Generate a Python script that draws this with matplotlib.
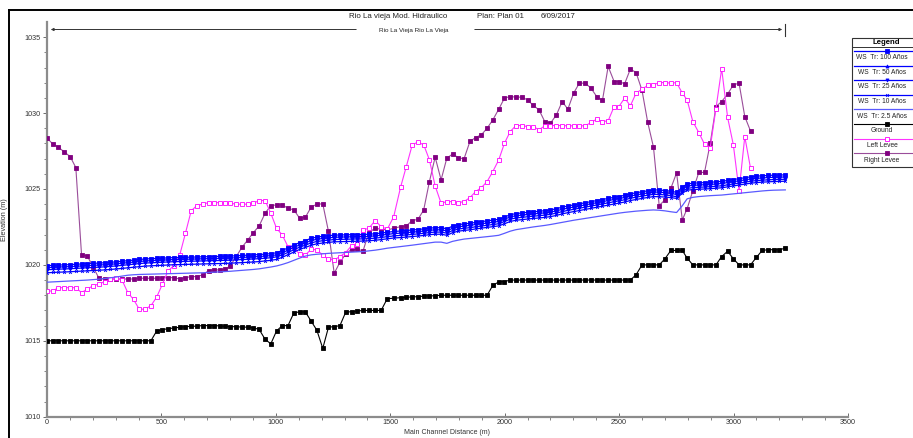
import numpy as np
import matplotlib.pyplot as plt
from matplotlib.lines import Line2D
from matplotlib.patches import Rectangle

plt.rcParams['font.family'] = ['Liberation Sans', 'DejaVu Sans']

# main channel stations (m)
station = [0, 25, 50, 76, 101, 126, 151, 176, 202, 227,
           252, 277, 302, 328, 353, 378, 403, 428, 454, 479,
           504, 529, 554, 580, 605, 630, 655, 680, 706, 731,
           756, 779, 801, 827, 852, 877, 902, 927, 953, 978,
           1003, 1028, 1053, 1079, 1104, 1129, 1154, 1179, 1205, 1230,
           1255, 1280, 1305, 1331, 1356, 1381, 1406, 1434, 1460, 1487,
           1515, 1545, 1570, 1596, 1621, 1646, 1671, 1696, 1722, 1747,
           1772, 1797, 1822, 1848, 1873, 1898, 1923, 1948, 1974, 1999,
           2024, 2049, 2074, 2100, 2125, 2150, 2175, 2200, 2226, 2251,
           2276, 2301, 2326, 2352, 2377, 2402, 2427, 2452, 2478, 2499,
           2524, 2549, 2574, 2600, 2625, 2650, 2675, 2700, 2726, 2751,
           2776, 2797, 2822, 2848, 2873, 2898, 2923, 2948, 2974, 2999,
           3024, 3049, 3074, 3100, 3125, 3150, 3175, 3200, 3226]

ws_100 = [1019.95, 1019.97, 1019.99, 1020.00, 1020.02, 1020.04, 1020.06, 1020.08, 1020.10, 1020.12,
          1020.14, 1020.17, 1020.20, 1020.24, 1020.28, 1020.32, 1020.36, 1020.39, 1020.41, 1020.43,
          1020.45, 1020.47, 1020.48, 1020.49, 1020.50, 1020.51, 1020.52, 1020.53, 1020.54, 1020.55,
          1020.56, 1020.57, 1020.58, 1020.60, 1020.62, 1020.64, 1020.66, 1020.68, 1020.71, 1020.74,
          1020.80, 1020.95, 1021.12, 1021.30, 1021.47, 1021.60, 1021.75, 1021.83, 1021.88, 1021.92,
          1021.96, 1021.97, 1021.98, 1021.99, 1022.00, 1022.00, 1022.02, 1022.05, 1022.10, 1022.15,
          1022.20, 1022.23, 1022.26, 1022.30, 1022.33, 1022.37, 1022.42, 1022.45, 1022.45, 1022.38,
          1022.55, 1022.65, 1022.70, 1022.74, 1022.80, 1022.85, 1022.90, 1022.95, 1023.00, 1023.15,
          1023.30, 1023.38, 1023.42, 1023.46, 1023.50, 1023.53, 1023.57, 1023.62, 1023.70, 1023.80,
          1023.88, 1023.95, 1024.02, 1024.10, 1024.17, 1024.24, 1024.30, 1024.38, 1024.45, 1024.50,
          1024.58, 1024.68, 1024.75, 1024.82, 1024.88, 1024.94, 1024.93, 1024.90, 1024.85, 1024.78,
          1025.12, 1025.33, 1025.38, 1025.40, 1025.42, 1025.44, 1025.47, 1025.50, 1025.56, 1025.62,
          1025.68, 1025.74, 1025.80, 1025.84, 1025.87, 1025.89, 1025.91, 1025.92, 1025.93]

ws_50 = [1019.82, 1019.84, 1019.86, 1019.87, 1019.89, 1019.91, 1019.93, 1019.95, 1019.97, 1019.99,
         1020.01, 1020.04, 1020.07, 1020.11, 1020.15, 1020.19, 1020.23, 1020.26, 1020.28, 1020.30,
         1020.32, 1020.34, 1020.35, 1020.36, 1020.37, 1020.38, 1020.39, 1020.40, 1020.41, 1020.42,
         1020.43, 1020.44, 1020.45, 1020.47, 1020.49, 1020.51, 1020.53, 1020.55, 1020.58, 1020.61,
         1020.66, 1020.80, 1020.97, 1021.15, 1021.32, 1021.45, 1021.60, 1021.69, 1021.74, 1021.78,
         1021.82, 1021.83, 1021.84, 1021.85, 1021.86, 1021.86, 1021.88, 1021.91, 1021.96, 1022.01,
         1022.06, 1022.09, 1022.12, 1022.16, 1022.19, 1022.23, 1022.28, 1022.31, 1022.31, 1022.24,
         1022.41, 1022.51, 1022.56, 1022.60, 1022.66, 1022.71, 1022.76, 1022.81, 1022.86, 1023.01,
         1023.16, 1023.24, 1023.28, 1023.32, 1023.36, 1023.39, 1023.43, 1023.48, 1023.56, 1023.66,
         1023.74, 1023.81, 1023.88, 1023.96, 1024.03, 1024.10, 1024.16, 1024.24, 1024.31, 1024.36,
         1024.44, 1024.54, 1024.61, 1024.68, 1024.74, 1024.80, 1024.79, 1024.76, 1024.71, 1024.64,
         1024.98, 1025.19, 1025.24, 1025.26, 1025.28, 1025.30, 1025.33, 1025.36, 1025.42, 1025.48,
         1025.54, 1025.60, 1025.66, 1025.70, 1025.73, 1025.75, 1025.77, 1025.78, 1025.79]

ws_25 = [1019.68, 1019.70, 1019.72, 1019.73, 1019.75, 1019.77, 1019.79, 1019.81, 1019.83, 1019.85,
         1019.87, 1019.90, 1019.93, 1019.97, 1020.01, 1020.05, 1020.09, 1020.12, 1020.14, 1020.16,
         1020.18, 1020.20, 1020.21, 1020.22, 1020.23, 1020.24, 1020.25, 1020.26, 1020.27, 1020.28,
         1020.29, 1020.30, 1020.31, 1020.33, 1020.35, 1020.37, 1020.39, 1020.41, 1020.44, 1020.47,
         1020.53, 1020.66, 1020.82, 1021.00, 1021.17, 1021.30, 1021.45, 1021.54, 1021.59, 1021.63,
         1021.67, 1021.68, 1021.69, 1021.70, 1021.71, 1021.71, 1021.73, 1021.76, 1021.81, 1021.86,
         1021.91, 1021.94, 1021.97, 1022.01, 1022.04, 1022.08, 1022.13, 1022.16, 1022.16, 1022.09,
         1022.26, 1022.36, 1022.41, 1022.45, 1022.51, 1022.56, 1022.61, 1022.66, 1022.71, 1022.86,
         1023.01, 1023.09, 1023.13, 1023.17, 1023.21, 1023.24, 1023.28, 1023.33, 1023.41, 1023.51,
         1023.59, 1023.66, 1023.73, 1023.81, 1023.88, 1023.95, 1024.01, 1024.09, 1024.16, 1024.21,
         1024.29, 1024.39, 1024.46, 1024.53, 1024.59, 1024.65, 1024.64, 1024.61, 1024.56, 1024.49,
         1024.83, 1025.04, 1025.09, 1025.11, 1025.13, 1025.15, 1025.18, 1025.21, 1025.27, 1025.33,
         1025.39, 1025.45, 1025.51, 1025.55, 1025.58, 1025.60, 1025.62, 1025.63, 1025.64]

ws_10 = [1019.48, 1019.50, 1019.52, 1019.53, 1019.55, 1019.57, 1019.59, 1019.61, 1019.63, 1019.65,
         1019.67, 1019.70, 1019.73, 1019.77, 1019.81, 1019.85, 1019.89, 1019.92, 1019.94, 1019.96,
         1019.98, 1020.00, 1020.01, 1020.02, 1020.03, 1020.04, 1020.05, 1020.06, 1020.07, 1020.08,
         1020.09, 1020.10, 1020.11, 1020.13, 1020.15, 1020.17, 1020.19, 1020.22, 1020.26, 1020.30,
         1020.36, 1020.50, 1020.67, 1020.85, 1021.02, 1021.15, 1021.29, 1021.39, 1021.44, 1021.48,
         1021.52, 1021.53, 1021.54, 1021.55, 1021.56, 1021.57, 1021.59, 1021.62, 1021.67, 1021.72,
         1021.77, 1021.80, 1021.83, 1021.87, 1021.90, 1021.94, 1021.99, 1022.02, 1022.02, 1021.95,
         1022.12, 1022.22, 1022.27, 1022.31, 1022.37, 1022.42, 1022.47, 1022.52, 1022.57, 1022.71,
         1022.86, 1022.94, 1022.98, 1023.02, 1023.06, 1023.09, 1023.13, 1023.18, 1023.26, 1023.36,
         1023.44, 1023.51, 1023.58, 1023.66, 1023.73, 1023.80, 1023.86, 1023.94, 1024.01, 1024.06,
         1024.14, 1024.24, 1024.31, 1024.38, 1024.44, 1024.50, 1024.49, 1024.47, 1024.43, 1024.38,
         1024.72, 1024.92, 1024.96, 1024.98, 1025.00, 1025.02, 1025.05, 1025.08, 1025.14, 1025.20,
         1025.26, 1025.32, 1025.38, 1025.42, 1025.45, 1025.47, 1025.49, 1025.50, 1025.51]

ws_2_5 = [1018.86, 1018.88, 1018.90, 1018.92, 1018.94, 1018.96, 1018.98, 1019.00, 1019.03, 1019.06,
          1019.10, 1019.15, 1019.20, 1019.26, 1019.32, 1019.35, 1019.37, 1019.38, 1019.39, 1019.40,
          1019.41, 1019.42, 1019.43, 1019.44, 1019.45, 1019.46, 1019.47, 1019.48, 1019.50, 1019.52,
          1019.54, 1019.56, 1019.58, 1019.61, 1019.64, 1019.67, 1019.70, 1019.74, 1019.80, 1019.86,
          1019.93, 1020.03, 1020.15, 1020.30, 1020.45, 1020.58, 1020.66, 1020.70, 1020.73, 1020.76,
          1020.78, 1020.80, 1020.82, 1020.84, 1020.86, 1020.88, 1020.92, 1020.97, 1021.03, 1021.10,
          1021.15, 1021.20, 1021.25, 1021.30, 1021.35, 1021.40, 1021.45, 1021.50, 1021.50, 1021.42,
          1021.55, 1021.63, 1021.70, 1021.74, 1021.78, 1021.82, 1021.86, 1021.90, 1021.95, 1022.08,
          1022.22, 1022.32, 1022.38, 1022.44, 1022.50, 1022.55, 1022.60, 1022.66, 1022.73, 1022.80,
          1022.87, 1022.94, 1023.00, 1023.06, 1023.12, 1023.18, 1023.24, 1023.30, 1023.36, 1023.41,
          1023.46, 1023.50, 1023.54, 1023.57, 1023.60, 1023.62, 1023.60, 1023.56, 1023.50, 1023.45,
          1023.90, 1024.35, 1024.45, 1024.50, 1024.53, 1024.56, 1024.58, 1024.60, 1024.64, 1024.68,
          1024.72, 1024.76, 1024.80, 1024.84, 1024.87, 1024.90, 1024.92, 1024.93, 1024.94]

ground = [1015.0, 1015.0, 1015.0, 1015.0, 1015.0, 1015.0, 1015.0, 1015.0, 1015.0, 1015.0,
          1015.0, 1015.0, 1015.0, 1015.0, 1015.0, 1015.0, 1015.0, 1015.0, 1015.0, 1015.64,
          1015.73, 1015.80, 1015.84, 1015.89, 1015.93, 1015.95, 1015.97, 1016.0, 1016.0, 1016.0,
          1015.98, 1015.95, 1015.93, 1015.93, 1015.90, 1015.90, 1015.85, 1015.75, 1015.10, 1014.80,
          1015.65, 1016.0, 1016.0, 1016.85, 1016.90, 1016.90, 1016.30, 1015.70, 1014.50, 1015.90,
          1015.93, 1016.0, 1016.88, 1016.92, 1016.96, 1017.0, 1017.0, 1017.0, 1017.0, 1017.78,
          1017.80, 1017.84, 1017.86, 1017.90, 1017.90, 1017.95, 1017.95, 1017.97, 1018.0, 1018.0,
          1018.0, 1018.0, 1018.0, 1018.0, 1018.0, 1018.0, 1018.0, 1018.65, 1018.88, 1018.90,
          1019.0, 1019.0, 1019.0, 1019.0, 1019.0, 1019.0, 1019.0, 1019.0, 1019.0, 1019.0,
          1019.0, 1019.0, 1019.0, 1019.0, 1019.0, 1019.0, 1019.0, 1019.0, 1019.0, 1019.0,
          1019.0, 1019.0, 1019.35, 1020.0, 1020.0, 1020.0, 1020.0, 1020.40, 1020.95, 1020.95,
          1020.95, 1020.45, 1020.0, 1020.0, 1020.0, 1020.0, 1020.0, 1020.55, 1020.90, 1020.40,
          1020.0, 1020.0, 1020.0, 1020.50, 1020.95, 1021.0, 1021.0, 1021.0, 1021.10]

left_levee = [1018.28, 1018.28, 1018.50, 1018.50, 1018.50, 1018.50, 1018.17, 1018.41, 1018.63, 1018.74,
              1018.90, 1019.05, 1019.12, 1019.00, 1018.17, 1017.73, 1017.08, 1017.08, 1017.31, 1017.87,
              1018.72, 1019.60, 1019.95, 1020.65, 1022.09, 1023.56, 1023.91, 1024.00, 1024.10, 1024.10,
              1024.10, 1024.06, 1024.06, 1024.00, 1024.00, 1024.00, 1024.06, 1024.24, 1024.24, 1023.40,
              1022.41, 1021.97, 1021.20, 1021.10, 1020.72, 1020.65, 1021.03, 1020.99, 1020.65, 1020.37,
              1020.33, 1020.55, 1020.81, 1021.27, 1021.36, 1022.30, 1022.41, 1022.92, 1022.52, 1022.35,
              1023.18, 1025.12, 1026.48, 1027.91, 1028.09, 1027.91, 1026.92, 1025.20, 1024.06, 1024.17,
              1024.17, 1024.10, 1024.17, 1024.43, 1024.83, 1025.09, 1025.49, 1026.15, 1026.92, 1028.02,
              1028.78, 1029.18, 1029.18, 1029.11, 1029.11, 1028.90, 1029.16, 1029.18, 1029.18, 1029.18,
              1029.16, 1029.16, 1029.16, 1029.16, 1029.38, 1029.60, 1029.44, 1029.49, 1030.43, 1030.43,
              1030.99, 1030.48, 1031.31, 1031.58, 1031.82, 1031.86, 1032.01, 1032.01, 1031.97, 1032.01,
              1031.31, 1030.87, 1029.44, 1028.72, 1027.95, 1027.73, 1030.30, 1032.92, 1029.71, 1027.91,
              1024.88, 1028.45, 1026.37]

right_levee = [1028.35, 1027.97, 1027.75, 1027.43, 1027.14, 1026.41, 1020.65, 1020.59, 1019.85, 1019.12,
               1019.07, 1019.07, 1019.07, 1019.07, 1019.07, 1019.07, 1019.12, 1019.12, 1019.12, 1019.12,
               1019.16, 1019.16, 1019.16, 1019.07, 1019.16, 1019.23, 1019.23, 1019.34, 1019.62, 1019.67,
               1019.67, 1019.71, 1019.95, 1020.55, 1021.16, 1021.64, 1022.13, 1022.57, 1023.40, 1023.91,
               1023.95, 1023.95, 1023.73, 1023.62, 1023.07, 1023.14, 1023.80, 1024.00, 1024.02, 1022.20,
               1019.45, 1020.17, 1020.72, 1021.03, 1021.03, 1020.92, 1022.13, 1022.41, 1022.35, 1022.30,
               1022.41, 1022.52, 1022.57, 1022.92, 1023.00, 1023.62, 1025.49, 1027.10, 1025.60, 1027.03,
               1027.30, 1027.07, 1026.98, 1028.13, 1028.39, 1028.57, 1029.00, 1029.55, 1030.26, 1030.99,
               1031.09, 1031.05, 1031.05, 1030.87, 1030.50, 1030.21, 1029.44, 1029.34, 1029.88, 1030.76,
               1030.26, 1031.31, 1031.97, 1031.97, 1031.64, 1031.09, 1030.83, 1033.07, 1032.08, 1032.08,
               1031.93, 1032.90, 1032.67, 1031.49, 1029.38, 1027.76, 1023.91, 1024.28, 1025.05, 1026.06,
               1022.96, 1023.70, 1024.88, 1026.09, 1026.09, 1028.00, 1030.43, 1030.76, 1031.25, 1031.86,
               1031.97, 1029.77, 1028.82]

legend_labels = ['WS  Tr: 100 Años', 'WS  Tr: 50 Años', 'WS  Tr: 25 Años', 'WS  Tr: 10 Años',
                 'WS  Tr: 2.5 Años', 'Ground', 'Left Levee', 'Right Levee']

W, H = 913, 438
fig = plt.figure(figsize=(W / 100, H / 100), dpi=100)

# pixel overlay for frame, titles, river arrow
ov = fig.add_axes([0, 0, 1, 1])
ov.set_xlim(0, W)
ov.set_ylim(H, 0)
ov.axis('off')

ax = fig.add_axes([47 / W, 21.3 / H, 801 / W, 394.7 / H])
ax.set_xlim(0, 3500)
ax.set_ylim(1010, 1036.0)

x = np.array(station)
nlev = len(left_levee)

# styles: (color, marker, facecolor, markersize, linewidth)
styles = {
    'ws_100': ('#0000ff', 's', '#0000ff', 2.4, 0.9),
    'ws_50': ('#0000ff', '^', '#0000ff', 2.2, 0.9),
    'ws_25': ('#0000ff', 'v', '#0000ff', 2.2, 0.9),
    'ws_10': ('#0000ff', 'x', '#0000ff', 2.0, 0.9),
    'ws_2_5': ('#5a5aff', '', 'none', 0, 0.9),
    'ground': ('#000000', 's', '#000000', 2.2, 0.8),
    'left': ('#ff33ff', 's', 'white', 2.4, 0.8),
    'right': ('#9a4d9a', 's', '#800080', 2.4, 0.8),
}

series = [
    ('ground', x, ground),
    ('right', x[:nlev], right_levee),
    ('left', x[:nlev], left_levee),
    ('ws_2_5', x, ws_2_5),
    ('ws_10', x, ws_10),
    ('ws_25', x, ws_25),
    ('ws_50', x, ws_50),
    ('ws_100', x, ws_100),
]
for key, xs, ys in series:
    c, m, fc, ms, lw = styles[key]
    mec = {'right': '#800080', 'left': '#ff00ff'}.get(key, c)
    ax.plot(xs, ys, color=c, lw=lw, marker=m if m else None, ms=ms,
            mfc=fc, mec=mec, mew=0.6, zorder=3)

ax.spines['top'].set_visible(False)
ax.spines['right'].set_visible(False)
for s in ['left', 'bottom']:
    ax.spines[s].set_color('#8c8c8c')
    ax.spines[s].set_linewidth(1.6)

ax.set_xticks(np.arange(0, 3501, 500))
ax.set_xticks(np.arange(0, 3501, 100), minor=True)
ax.set_yticks(np.arange(1010, 1036, 5))
ax.set_yticks(np.arange(1010, 1036, 1), minor=True)
ax.tick_params(axis='both', which='major', labelsize=5.2, length=3, width=0.6,
               color='#555555', labelcolor='#333333', pad=1.5)
ax.tick_params(axis='both', which='minor', length=2, width=0.5, color='#555555')
ax.tick_params(axis='x', direction='in')
ax.set_ylabel('Elevation (m)', fontsize=5.2, color='#333333', labelpad=12)
ax.patch.set_alpha(0)

# frame of the screenshot
ov.add_line(Line2D([9, 9], [10, H], color='black', lw=1.4))
ov.add_line(Line2D([9, W], [10, 10], color='black', lw=1.4))

# title lines
ov.text(349, 16.5, 'Rio La vieja Mod. Hidraulico', fontsize=5.7, va='center', ha='left', color='#222222')
ov.text(477, 16.5, 'Plan: Plan 01', fontsize=5.7, va='center', ha='left', color='#222222')
ov.text(541, 16.5, '6/09/2017', fontsize=5.7, va='center', ha='left', color='#222222')
ov.text(414, 30.5, 'Rio La Vieja Rio La Vieja', fontsize=4.6, va='center', ha='center', color='#222222')
ov.annotate('', xy=(48, 29.5), xytext=(359, 29.5),
            arrowprops=dict(arrowstyle='-|>', color='#333333', lw=0.7, mutation_scale=4))
ov.annotate('', xy=(785, 29.5), xytext=(472, 29.5),
            arrowprops=dict(arrowstyle='-|>', color='#333333', lw=0.7, mutation_scale=4))
ov.add_line(Line2D([785, 785], [24, 36], color='#333333', lw=0.8))

# x axis label near the bottom edge
ov.text(447, 436.5, 'Main Channel Distance (m)', fontsize=5.0, ha='center', va='bottom', color='#333333')

# legend box (runs past the right edge of the screenshot)
lx, ly = 851.5, 37.5
ov.add_patch(Rectangle((lx, ly), 72, 129.5, fill=True, fc='white', ec='#333333', lw=0.8, zorder=5))
ov.text(lx + 35, ly + 5.2, 'Legend', fontsize=5.6, fontweight='bold', ha='center', va='center', zorder=6)
ov.add_line(Line2D([lx, lx + 72], [ly + 9.4, ly + 9.4], color='#333333', lw=0.7, zorder=6))
leg_keys = ['ws_100', 'ws_50', 'ws_25', 'ws_10', 'ws_2_5', 'ground', 'left', 'right']
for k, (key, lab) in enumerate(zip(leg_keys, legend_labels)):
    c, m, fc, ms, lw = styles[key]
    mec = {'right': '#800080', 'left': '#ff00ff'}.get(key, c)
    yy = ly + 13.5 + 14.6 * k
    ov.plot([lx + 2, lx + 70], [yy, yy], color=c, lw=lw, zorder=6)
    if m:
        ov.plot([lx + 35], [yy], marker=m, ms=ms, mfc=fc, mec=mec, mew=0.6, color=c, zorder=7)
    ov.text(lx + 30.5, yy + 6.8, lab, fontsize=4.8, ha='center', va='center', color='#222222', zorder=7)

fig.savefig('out.png', dpi=100)
